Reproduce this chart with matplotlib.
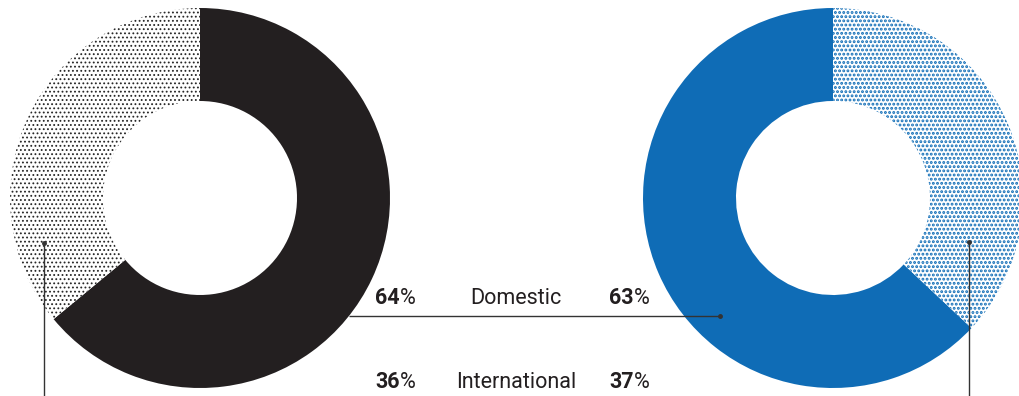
import matplotlib
matplotlib.use("Agg")
import matplotlib.pyplot as plt

# Share of revenue by market, two periods
categories = ["Domestic", "International"]
left_values = [64, 36]
right_values = [63, 37]

BLACK = "#231f20"
BLUE = "#0f6cb6"

W, H = 1020, 396
fig = plt.figure(figsize=(W / 100, H / 100), dpi=100)
ax = fig.add_axes([0, 0, 1, 1])

R_OUT = 190
RING = 93


def py(y):
    """Convert a top-down pixel row into the axes' y coordinate."""
    return H - y


# Left ring: solid segment clockwise from the top, dotted remainder
plt.rcParams["hatch.linewidth"] = 0.8
lw, _ = ax.pie(left_values, center=(200, py(198)), radius=R_OUT, startangle=90,
               counterclock=False, frame=True,
               wedgeprops=dict(width=RING, linewidth=0))
lw[0].set_facecolor(BLACK)
lw[1].set_facecolor("white")
lw[1].set_edgecolor("#262626")
lw[1].set_hatch("....")
lw[1].set_linewidth(0)

# Right ring: solid segment counter-clockwise from the top, dotted remainder
plt.rcParams["hatch.linewidth"] = 1.4
rw, _ = ax.pie(right_values, center=(833, py(198)), radius=R_OUT, startangle=90,
               counterclock=True, frame=True,
               wedgeprops=dict(width=RING, linewidth=0))
rw[0].set_facecolor(BLUE)
rw[1].set_facecolor("white")
rw[1].set_edgecolor(BLUE)
rw[1].set_hatch("....")
rw[1].set_linewidth(0)

# Leader lines
line_kw = dict(color="#333333", linewidth=1.0, solid_capstyle="butt")
ax.plot([44, 44], [py(243), py(396)], **line_kw)
ax.plot([44], [py(243)], marker="o", markersize=2.5, color="#333333")
ax.plot([969, 969], [py(242), py(396)], **line_kw)
ax.plot([969], [py(242)], marker="o", markersize=2.5, color="#333333")
ax.plot([349, 720], [py(316), py(316)], **line_kw)
ax.plot([720], [py(316)], marker="o", markersize=2.5, color="#333333")

# Value table between the rings
FONT = "Roboto"
FS = 15.5
rows_y = [298, 382]
for cat, lv, rv, y in zip(categories, left_values, right_values, rows_y):
    ax.text(400, py(y), f"{lv}", ha="right", va="center", fontsize=FS,
            fontweight="bold", family=FONT, color=BLACK)
    ax.text(400, py(y), "%", ha="left", va="center", fontsize=FS,
            family=FONT, color=BLACK)
    ax.text(516, py(y), cat, ha="center", va="center", fontsize=FS,
            family=FONT, color=BLACK)
    ax.text(634, py(y), f"{rv}", ha="right", va="center", fontsize=FS,
            fontweight="bold", family=FONT, color=BLACK)
    ax.text(634, py(y), "%", ha="left", va="center", fontsize=FS,
            family=FONT, color=BLACK)

ax.set_xlim(0, W)
ax.set_ylim(0, H)
ax.set_aspect("auto")
ax.axis("off")

fig.savefig("out.png", dpi=100)
